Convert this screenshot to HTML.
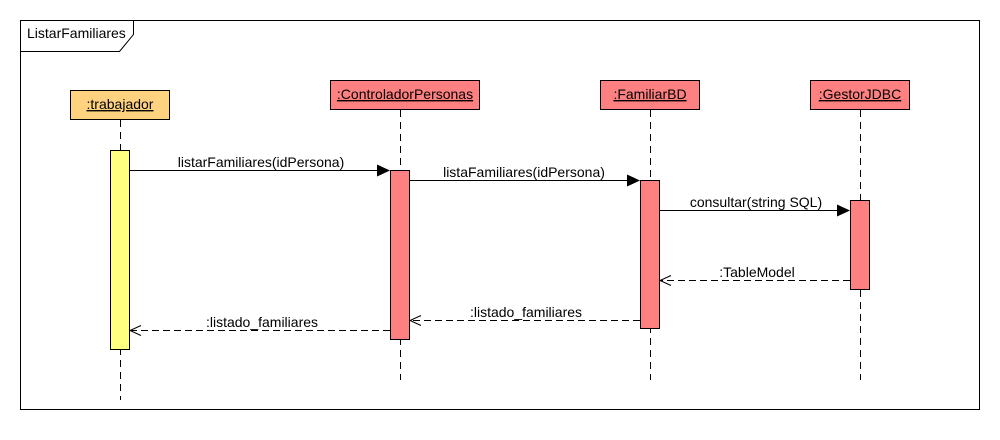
<!DOCTYPE html>
<html><head><meta charset="utf-8"><style>
html,body{margin:0;padding:0;background:#fff;width:1000px;height:440px;overflow:hidden}
text{font-family:"Liberation Sans",Arial,sans-serif;font-size:14px;fill:#000}
</style></head><body>
<svg width="1000" height="440" xmlns="http://www.w3.org/2000/svg">
<rect x="20.5" y="20.5" width="959" height="389" fill="#fff" stroke="#000"/>
<path d="M20.5 51.5H119.5L133.5 34.5V20.5" fill="none" stroke="#000"/>
<text x="27" y="38">ListarFamiliares</text>
<g stroke="#000" stroke-dasharray="7,5" fill="none">
<line x1="120.5" y1="120" x2="120.5" y2="400"/>
<line x1="400.5" y1="110" x2="400.5" y2="380"/>
<line x1="650.5" y1="110" x2="650.5" y2="380"/>
<line x1="860.5" y1="110" x2="860.5" y2="380"/>
</g>
<rect x="70.5" y="90.5" width="99" height="29" fill="#ffd280" stroke="#000"/>
<text x="120" y="109" text-anchor="middle" text-decoration="underline">:trabajador</text>
<rect x="330.5" y="80.5" width="149" height="29" fill="#ff8080" stroke="#000"/>
<text x="405" y="99" text-anchor="middle" text-decoration="underline">:ControladorPersonas</text>
<rect x="600.5" y="80.5" width="99" height="29" fill="#ff8080" stroke="#000"/>
<text x="650" y="99" text-anchor="middle" text-decoration="underline">:FamiliarBD</text>
<rect x="810.5" y="80.5" width="99" height="29" fill="#ff8080" stroke="#000"/>
<text x="860" y="99" text-anchor="middle" text-decoration="underline">:GestorJDBC</text>
<rect x="110.5" y="150.5" width="19" height="199" fill="#ffff80" stroke="#000"/>
<rect x="390.5" y="170.5" width="19" height="169" fill="#ff8080" stroke="#000"/>
<rect x="640.5" y="180.5" width="19" height="148" fill="#ff8080" stroke="#000"/>
<rect x="850.5" y="200.5" width="19" height="89" fill="#ff8080" stroke="#000"/>
<g stroke="#000" fill="none">
<line x1="130" y1="170.5" x2="378" y2="170.5"/>
<line x1="410" y1="180.5" x2="628" y2="180.5"/>
<line x1="660" y1="210.5" x2="838" y2="210.5"/>
<g stroke-dasharray="7,4">
<line x1="850" y1="280.5" x2="661" y2="280.5"/>
<line x1="640" y1="320.5" x2="411" y2="320.5"/>
<line x1="390" y1="330.5" x2="131" y2="330.5"/>
</g>
<path d="M671 275.5L660 280.5L671 285.5"/>
<path d="M421 315.5L410 320.5L421 325.5"/>
<path d="M141 325.5L130 330.5L141 335.5"/>
</g>
<g fill="#000">
<path d="M377 164.5L390 170.5L377 176.5Z"/>
<path d="M627 174.5L640 180.5L627 186.5Z"/>
<path d="M837 204.5L850 210.5L837 216.5Z"/>
</g>
<text x="261" y="167" text-anchor="middle">listarFamiliares(idPersona)</text>
<text x="524" y="177" text-anchor="middle">listaFamiliares(idPersona)</text>
<text x="756" y="207" text-anchor="middle">consultar(string SQL)</text>
<text x="757" y="277" text-anchor="middle">:TableModel</text>
<text x="526" y="317" text-anchor="middle">:listado_familiares</text>
<text x="262" y="327" text-anchor="middle">:listado_familiares</text>
</svg>
</body></html>
